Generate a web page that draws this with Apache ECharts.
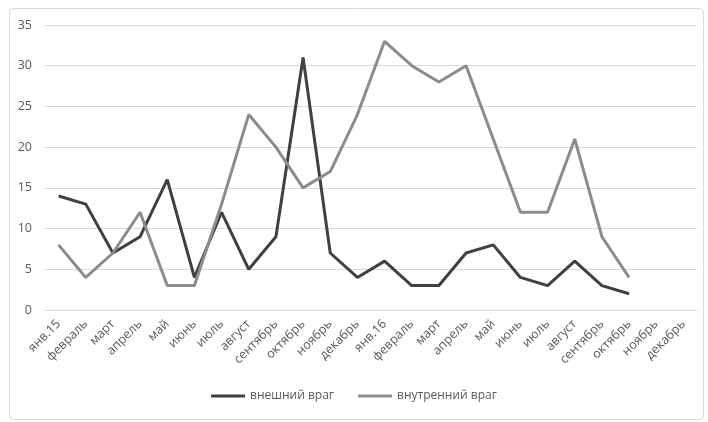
<!DOCTYPE html>
<html><head><meta charset="utf-8">
<script src="https://cdn.jsdelivr.net/npm/echarts@6/dist/echarts.min.js"></script>
<style>html,body{margin:0;padding:0;background:#fff}#c{width:708px;height:422px}</style>
</head><body><div id="c"></div>
<script>
const categories = ["янв.15","февраль","март","апрель","май","июнь","июль","август","сентябрь","октябрь","ноябрь","декабрь",
  "янв.16","февраль","март","апрель","май","июнь","июль","август","сентябрь","октябрь","ноябрь","декабрь"];
const externalEnemy = [14,13,7,9,16,4,12,5,9,31,7,4,6,3,3,7,8,4,3,6,3,2];
const internalEnemy = [8,4,7,12,3,3,13,24,20,15,17,24,33,30,28,30,21,12,12,21,9,4];
const seriesNames = ["внешний враг","внутренний враг"];

const chart = echarts.init(document.getElementById('c'), null, {renderer:'canvas'});
chart.setOption({
  animation:false,
  backgroundColor:'#fff',
  graphic:[{type:'rect',left:7,top:6,shape:{width:694,height:411,r:4},style:{fill:'none',stroke:'#d9d9d9',lineWidth:1},silent:true}],
  grid:{left:45,right:11,top:25,bottom:112,containLabel:false},
  legend:{bottom:15,left:'center',itemWidth:34,itemHeight:3,itemGap:24,icon:'rect',
    textStyle:{color:'#595959',fontSize:12,fontFamily:'Open Sans'},
    data:seriesNames},
  xAxis:{type:'category',data:categories,boundaryGap:true,
    axisLine:{show:true,lineStyle:{color:'#d9d9d9'}},axisTick:{show:false},
    axisLabel:{rotate:45,interval:0,color:'#595959',fontSize:12.5,fontFamily:'Open Sans',margin:12}},
  yAxis:{type:'value',min:0,max:35,interval:5,
    axisLine:{show:false},axisTick:{show:false},
    splitLine:{lineStyle:{color:'#d9d9d9'}},
    axisLabel:{color:'#595959',fontSize:12.5,fontFamily:'Open Sans',margin:13}},
  series:[
    {name:seriesNames[0],type:'line',data:externalEnemy,symbol:'none',lineStyle:{width:3,color:'#404040'},itemStyle:{color:'#404040'}},
    {name:seriesNames[1],type:'line',data:internalEnemy,symbol:'none',lineStyle:{width:3,color:'#8c8c8c'},itemStyle:{color:'#8c8c8c'}}
  ]
});
</script></body></html>
